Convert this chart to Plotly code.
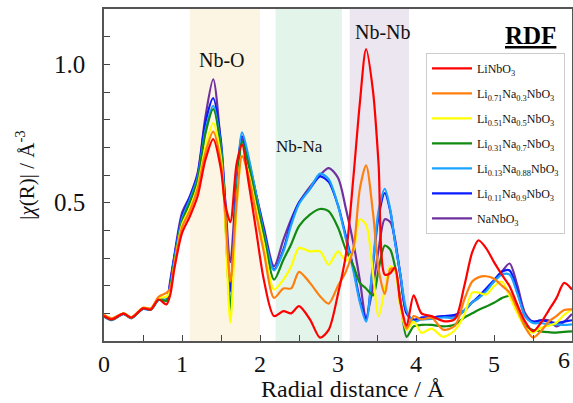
import plotly.graph_objects as go

R = [0, 0.1, 0.25, 0.35, 0.5, 0.6, 0.7, 0.8, 0.85, 0.9, 1.0, 1.1, 1.2, 1.3, 1.4, 1.5, 1.55, 1.62, 1.7, 1.77,
     1.85, 1.95, 2.05, 2.18, 2.3, 2.4, 2.5, 2.64, 2.77, 2.88, 3.0, 3.1, 3.2, 3.28, 3.36, 3.45, 3.52, 3.6, 3.67, 3.73,
     3.8, 3.88, 3.97, 4.07, 4.2, 4.35, 4.5, 4.62, 4.72, 4.8, 4.9, 5.0, 5.1, 5.2, 5.3, 5.4, 5.5, 5.6, 5.7, 5.8,
     5.9, 6.0]

li_nbo3 = [0.091, 0.078, 0.099, 0.084, 0.118, 0.114, 0.15, 0.132, 0.168, 0.258, 0.39, 0.45, 0.523, 0.655, 0.73, 0.62, 0.50, 0.43, 0.64, 0.71,
           0.58, 0.40, 0.22, 0.09, 0.108, 0.10, 0.126, 0.078, 0.012, 0.04, 0.17, 0.31, 0.60, 0.86, 1.055, 0.90, 0.64, 0.24, 0.245, 0.265,
           0.14, 0.055, 0.165, 0.10, 0.09, 0.072, 0.08, 0.20, 0.32, 0.364, 0.335, 0.285, 0.24, 0.198, 0.13, 0.07, 0.035, 0.065, 0.11, 0.155,
           0.21, 0.186]
li071 = [0.095, 0.082, 0.10, 0.086, 0.12, 0.118, 0.16, 0.174, 0.19, 0.27, 0.41, 0.47, 0.55, 0.68, 0.757, 0.64, 0.48, 0.215, 0.50, 0.668,
         0.60, 0.46, 0.32, 0.156, 0.19, 0.19, 0.25, 0.21, 0.162, 0.135, 0.20, 0.25, 0.34, 0.55, 0.635, 0.46, 0.26, 0.17, 0.26, 0.26,
         0.14, 0.045, 0.09, 0.078, 0.084, 0.041, 0.055, 0.15, 0.215, 0.23, 0.234, 0.225, 0.20, 0.175, 0.115, 0.05, 0.012, 0.035, 0.07, 0.09,
         0.112, 0.114]
li051 = [0.093, 0.08, 0.10, 0.085, 0.12, 0.116, 0.155, 0.16, 0.185, 0.27, 0.42, 0.48, 0.56, 0.70, 0.788, 0.66, 0.45, 0.067, 0.48, 0.668,
         0.61, 0.48, 0.35, 0.186, 0.222, 0.27, 0.336, 0.324, 0.324, 0.276, 0.324, 0.29, 0.33, 0.44, 0.42, 0.24, 0.09, 0.186, 0.27, 0.255,
         0.12, 0.04, 0.07, 0.03, 0.045, 0.015, 0.04, 0.095, 0.175, 0.175, 0.168, 0.198, 0.215, 0.162, 0.10, 0.05, 0.03, 0.048, 0.055, 0.066,
         0.095, 0.114]
li031 = [0.09, 0.078, 0.099, 0.084, 0.118, 0.115, 0.15, 0.145, 0.19, 0.28, 0.43, 0.50, 0.58, 0.75, 0.838, 0.69, 0.47, 0.12, 0.52, 0.72,
         0.64, 0.51, 0.38, 0.222, 0.294, 0.35, 0.415, 0.457, 0.477, 0.469, 0.41, 0.33, 0.27, 0.21, 0.19, 0.165, 0.258, 0.345, 0.33, 0.27,
         0.15, 0.015, 0.053, 0.058, 0.058, 0.053, 0.06, 0.085, 0.10, 0.112, 0.125, 0.138, 0.155, 0.162, 0.12, 0.055, 0.04, 0.035, 0.032, 0.03,
         0.033, 0.035]
li013 = [0.088, 0.075, 0.097, 0.082, 0.116, 0.113, 0.148, 0.15, 0.20, 0.29, 0.44, 0.51, 0.59, 0.76, 0.85, 0.70, 0.48, 0.11, 0.55, 0.754,
         0.67, 0.53, 0.39, 0.255, 0.324, 0.42, 0.495, 0.55, 0.605, 0.585, 0.49, 0.37, 0.25, 0.14, 0.07, 0.29, 0.47, 0.55, 0.475, 0.36,
         0.24, 0.11, 0.07, 0.078, 0.08, 0.085, 0.085, 0.11, 0.14, 0.155, 0.18, 0.215, 0.24, 0.24, 0.17, 0.09, 0.065, 0.065, 0.06, 0.06,
         0.058, 0.06]
li011 = [0.09, 0.077, 0.098, 0.083, 0.117, 0.114, 0.15, 0.15, 0.21, 0.30, 0.45, 0.52, 0.60, 0.79, 0.878, 0.72, 0.52, 0.18, 0.56, 0.74,
         0.66, 0.53, 0.40, 0.258, 0.33, 0.43, 0.50, 0.55, 0.595, 0.575, 0.49, 0.38, 0.26, 0.15, 0.08, 0.28, 0.45, 0.535, 0.47, 0.36,
         0.24, 0.10, 0.075, 0.085, 0.085, 0.09, 0.095, 0.11, 0.14, 0.16, 0.19, 0.22, 0.25, 0.255, 0.18, 0.09, 0.07, 0.075, 0.07, 0.065,
         0.07, 0.075]
nanbo3 = [0.09, 0.078, 0.099, 0.084, 0.118, 0.115, 0.15, 0.15, 0.22, 0.306, 0.463, 0.523, 0.607, 0.81, 0.946, 0.703, 0.52, 0.285, 0.58, 0.73,
          0.65, 0.53, 0.41, 0.27, 0.366, 0.44, 0.50, 0.557, 0.60, 0.625, 0.59, 0.48, 0.35, 0.22, 0.085, 0.20, 0.33, 0.44, 0.43, 0.37,
          0.235, 0.10, 0.078, 0.084, 0.085, 0.09, 0.09, 0.11, 0.14, 0.155, 0.185, 0.215, 0.25, 0.28, 0.20, 0.10, 0.07, 0.075, 0.075, 0.053,
          0.07, 0.098]

names = ["LiNbO<sub>3</sub>",
         "Li<sub>0.71</sub>Na<sub>0.3</sub>NbO<sub>3</sub>",
         "Li<sub>0.51</sub>Na<sub>0.5</sub>NbO<sub>3</sub>",
         "Li<sub>0.31</sub>Na<sub>0.7</sub>NbO<sub>3</sub>",
         "Li<sub>0.13</sub>Na<sub>0.88</sub>NbO<sub>3</sub>",
         "Li<sub>0.11</sub>Na<sub>0.9</sub>NbO<sub>3</sub>",
         "NaNbO<sub>3</sub>"]
series = [li_nbo3, li071, li051, li031, li013, li011, nanbo3]
colors = ["#ff0000", "#ff7f0e", "#ffff00", "#118a11", "#1aa3ff", "#0a1aff", "#7030a0"]

regions = [(1.1, 2.0, "#fdf5e3"), (2.2, 3.05, "#e3f4ea"), (3.15, 3.91, "#ece6f1")]
region_labels = [("Nb-O", 1.51, 1.016, 20), ("Nb-Na", 2.5, 0.703, 17), ("Nb-Nb", 3.58, 1.118, 20)]

xtick_vals = [0, 0.5, 1, 1.5, 2, 2.5, 3, 3.5, 4, 4.5, 5, 5.5, 6]
xtick_text = ["0", "", "1", "", "2", "", "3", "", "4", "", "5", "", "6"]
ytick_vals = [0, 0.1, 0.2, 0.3, 0.4, 0.5, 0.6, 0.7, 0.8, 0.9, 1.0, 1.1, 1.2]
ytick_text = ["", "", "", "", "", "0.5", "", "", "", "", "1.0", "", ""]

FONT = "Liberation Serif, Times New Roman, serif"

fig = go.Figure()
for i in range(7):
    fig.add_trace(go.Scatter(
        x=R, y=series[i], mode="lines", name=names[i],
        line=dict(color=colors[i], width=2.2, shape="spline", smoothing=0.8),
        legendgroup=str(i), legendrank=i + 1,
    ))
# red drawn on top
order = [6, 5, 4, 3, 2, 1, 0]
fig.data = tuple(fig.data[j] for j in order)

for x0, x1, c in regions:
    fig.add_shape(type="rect", xref="x", yref="paper", x0=x0, x1=x1, y0=0, y1=1,
                  fillcolor=c, line_width=0, layer="below")
for t, x, y, s in region_labels:
    fig.add_annotation(x=x, y=y, xref="x", yref="y", text=t, showarrow=False,
                       font=dict(family=FONT, size=s, color="#111"))
fig.add_annotation(x=5.47, y=1.106, xref="x", yref="y", text="<b><u>RDF</u></b>", showarrow=False,
                   font=dict(family=FONT, size=25, color="#000"))
fig.add_annotation(x=0.531, y=-0.19, xref="paper", yref="paper", text="Radial distance / Å",
                   showarrow=False, xanchor="center", yanchor="bottom",
                   font=dict(family=FONT, size=24, color="#111"))
# last x tick label sits on the figure edge; plotly drops it, so draw it right-aligned
fig.add_annotation(x=xtick_vals[-1], y=0, xref="x", yref="paper", yshift=-4, text=xtick_text[-1],
                   showarrow=False, xanchor="right", yanchor="top",
                   font=dict(family=FONT, size=24, color="#111"))

fig.update_layout(
    width=573, height=403,
    margin=dict(l=104, r=1, t=9, b=62, autoexpand=False),
    paper_bgcolor="white", plot_bgcolor="white",
    font=dict(family=FONT, color="#111"),
    showlegend=True,
    legend=dict(x=0.688, y=0.868, xanchor="left", yanchor="top",
                bgcolor="white", bordercolor="#cccccc", borderwidth=1,
                font=dict(family=FONT, size=12, color="#111"),
                tracegroupgap=6, traceorder="grouped", itemwidth=40),
    xaxis=dict(range=[0, 6], tickvals=xtick_vals, ticktext=xtick_text, automargin=False,
               ticks="inside", ticklen=6, tickcolor="#444", showline=True, linecolor="#555",
               linewidth=1.5, mirror=True, showgrid=False, zeroline=False,
               tickfont=dict(family=FONT, size=24, color="#111")),
    yaxis=dict(range=[0, 1.2], tickvals=ytick_vals, ticktext=ytick_text, automargin=False,
               ticks="inside", ticklen=6, tickcolor="#444", showline=True, linecolor="#555",
               linewidth=1.5, mirror=True, showgrid=False, zeroline=False, ticklabelstandoff=12,
               tickfont=dict(family=FONT, size=25, color="#111"),
               title=dict(text="|<i>χ</i>(R)| / Å<sup>-3</sup>", font=dict(family=FONT, size=21, color="#111"), standoff=14)),
)

fig.write_html("out.html", config={"displayModeBar": False},
               post_script="document.body.style.margin='0px';document.body.style.overflow='hidden';")
